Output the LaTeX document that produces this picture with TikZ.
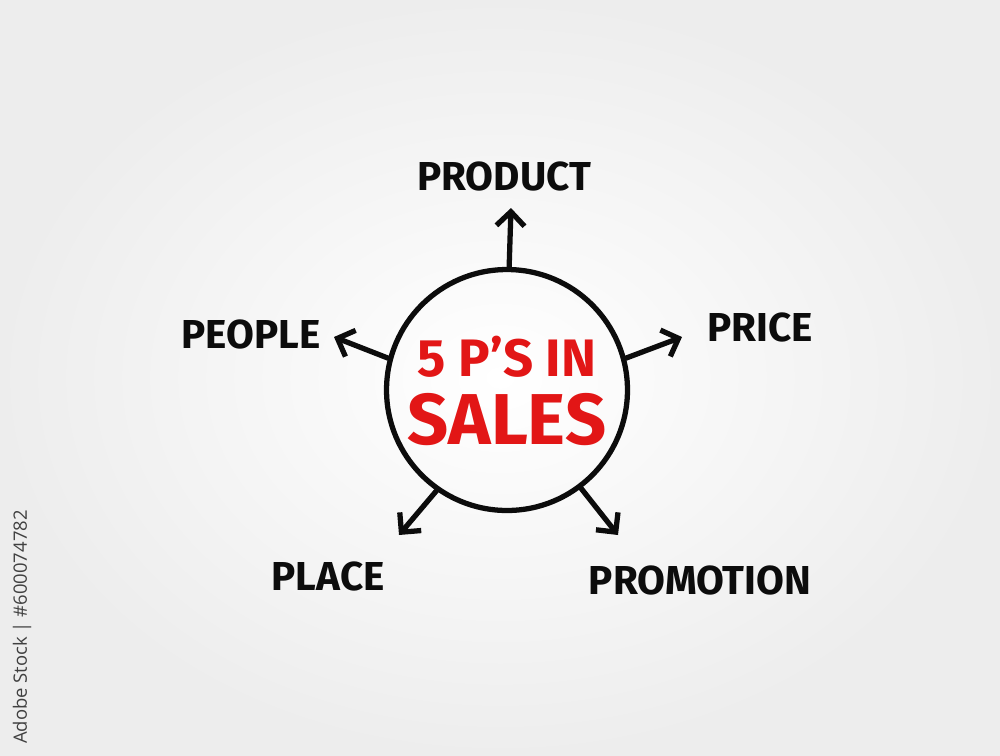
\documentclass[tikz,border=0pt]{standalone}
\usepackage{fontspec}
\setmainfont{Fira Sans}
\newfontfamily\stockfont{Open Sans}
\usetikzlibrary{arrows.meta,positioning,calc}
\definecolor{salesred}{RGB}{226,22,22}
\definecolor{inkblack}{RGB}{12,12,12}

\tikzset{
    ink/.style={draw=inkblack, line width=3pt, line cap=round},
    arr/.style={ink, -{Straight Barb[length=8pt, width=16pt, line width=3pt]}},
    plabel/.style={text=inkblack, font=\fontsize{23}{26}\selectfont\bfseries, inner sep=0pt}
}

\begin{document}
\begin{tikzpicture}[x=0.02cm, y=-0.02cm]
    % background
    \useasboundingbox (0,0) rectangle (1000,755);
    \shade[inner color=white, outer color=black!7] (0,0) rectangle (1000,755);

    % hub
    \node[ink, circle, minimum size=4.82cm, inner sep=0pt] (hub) at (507,390) {};
    \node[text=salesred, font=\fontsize{30}{32}\selectfont\bfseries, inner sep=0pt] (title1) at (507,357) {5 P'S IN};
    \node[text=salesred, font=\fontsize{41}{44}\selectfont\bfseries, inner sep=0pt] (title2) at (507,420) {SALES};

    % labels
    \node[plabel] (product) at (504,176) {PRODUCT};
    \node[plabel] (price) at (760,327) {PRICE};
    \node[plabel] (people) at (251,334) {PEOPLE};
    \node[plabel] (place) at (328,576) {PLACE};
    \node[plabel] (promotion) at (700,580) {PROMOTION};

    % arrow tips
    \coordinate (tproduct) at (511,208);
    \coordinate (tprice) at (682,337);
    \coordinate (tpeople) at (334,337);
    \coordinate (tplace) at (399,535);
    \coordinate (tpromotion) at (618,535);

    \draw[arr] (hub.89) -- (tproduct);
    \draw[arr] (hub.15) -- (tprice);
    \draw[arr] (hub.165) -- (tpeople);
    \draw[arr] (hub.235) -- (tplace);
    \draw[arr] (hub.307) -- (tpromotion);

    % stock id
    \node[rotate=90, text=black!75, font=\stockfont\fontsize{10.5}{12}\selectfont, inner sep=0pt] (stockid) at (22,627) {Adobe Stock | \#600074782};
\end{tikzpicture}
\end{document}
